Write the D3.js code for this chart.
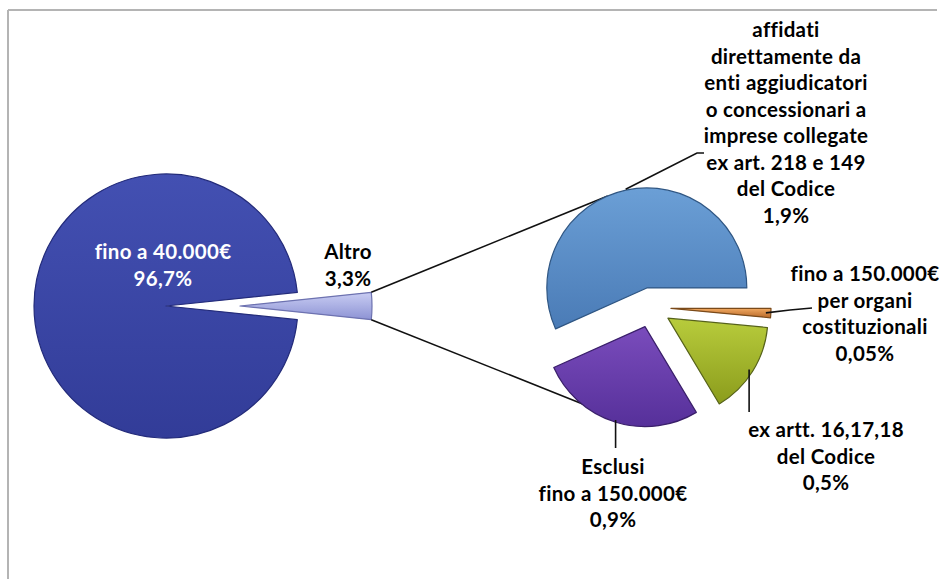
<!DOCTYPE html>
<html>
<head>
<meta charset="utf-8">
<script src="https://cdn.jsdelivr.net/npm/d3@7"></script>
<style>
  html, body { margin: 0; padding: 0; background: #fff; }
  svg { display: block; }
  text { font-family: Lato, "Open Sans", sans-serif; font-weight: 700; font-variant-ligatures: none; }
</style>
</head>
<body>
<svg id="chart" width="939" height="579"></svg>
<script>
// ---- data ----
const mainCategories = ["Altro", "fino a 40.000€"];
const mainValues = [3.3, 96.7];
const mainLabels = [["Altro", "3,3%"], ["fino a 40.000€", "96,7%"]];

const subCategories = [
  "fino a 150.000€ per organi costituzionali",
  "ex artt. 16,17,18 del Codice",
  "Esclusi fino a 150.000€",
  "affidati direttamente da enti aggiudicatori o concessionari a imprese collegate ex art. 218 e 149 del Codice"
];
const subValues = [0.05, 0.5, 0.9, 1.9];
const subLabels = [
  ["fino a 150.000€", "per organi", "costituzionali", "0,05%"],
  ["ex artt. 16,17,18", "del Codice", "0,5%"],
  ["Esclusi", "fino a 150.000€", "0,9%"],
  ["affidati", "direttamente da", "enti aggiudicatori", "o concessionari a", "imprese collegate", "ex art. 218 e 149", "del Codice", "1,9%"]
];

// ---- layout / style ----
const W = 939, H = 579;
const svg = d3.select("#chart");
const deg = Math.PI / 180;
const fontSize = 20.5, lineH = 26.5;

const main = { cx: 166, cy: 306, r: 132, explode: [74, 0] };
const sub = { cx: 651, cy: 307.5, r: 100, explode: 20 };

const mainFill = [["#c9cdf3", "#8d93d4"], ["#4350b2", "#323c98"]];
const mainStroke = ["#6d72b0", "#232b7a"];
const subFill = [["#f0a860", "#b8692a"], ["#b8cc3c", "#8b9c1c"], ["#7a4cbc", "#56309a"], ["#6b9fd6", "#4a7bb6"]];
const subStroke = ["#7a4a1a", "#56621a", "#3a1f6a", "#2f5683"];

const defs = svg.append("defs");
function grad(id, c) {
  const g = defs.append("linearGradient").attr("id", id)
    .attr("x1", 0).attr("y1", 0).attr("x2", 0).attr("y2", 1);
  g.append("stop").attr("offset", "0%").attr("stop-color", c[0]);
  g.append("stop").attr("offset", "100%").attr("stop-color", c[1]);
}
mainFill.forEach((c, i) => grad("mg" + i, c));
subFill.forEach((c, i) => grad("sg" + i, c));

// frame (top and left lines only)
svg.append("line").attr("x1", 8).attr("y1", 10).attr("x2", 937).attr("y2", 10)
  .attr("stroke", "#b4b4b4").attr("stroke-width", 2);
svg.append("line").attr("x1", 8).attr("y1", 10).attr("x2", 8).attr("y2", H)
  .attr("stroke", "#b4b4b4").attr("stroke-width", 2);

// ---- main pie ----
const altroSpan = mainValues[0] / d3.sum(mainValues) * 2 * Math.PI;
const mainPie = d3.pie().sort(null)
  .startAngle(Math.PI / 2 - altroSpan / 2)
  .endAngle(Math.PI / 2 - altroSpan / 2 + 2 * Math.PI);
const mainArcs = mainPie(mainValues);
const mainArc = d3.arc().innerRadius(0).outerRadius(main.r);

const mg = svg.append("g").attr("transform", `translate(${main.cx},${main.cy})`);
mg.selectAll("path").data(mainArcs).join("path")
  .attr("transform", (d, i) => {
    if (i !== 0) return null;
    const a = (d.startAngle + d.endAngle) / 2;
    return `translate(${Math.sin(a) * main.explode[0]},${-Math.cos(a) * main.explode[0]})`;
  })
  .attr("d", mainArc)
  .attr("fill", (d, i) => `url(#mg${i})`)
  .attr("stroke", (d, i) => mainStroke[i])
  .attr("stroke-width", 1.2)
  .attr("stroke-linejoin", "round");

// ---- secondary pie ----
const subPie = d3.pie().sort(null).startAngle(Math.PI / 2).endAngle(Math.PI / 2 + 2 * Math.PI);
const subArcs = subPie(subValues);
const subArc = d3.arc().innerRadius(0).outerRadius(sub.r);
function subOffset(d) {
  const a = (d.startAngle + d.endAngle) / 2;
  return [Math.sin(a) * sub.explode, -Math.cos(a) * sub.explode];
}
function subPoint(d, angle, rr) {
  const o = subOffset(d);
  return [sub.cx + o[0] + Math.sin(angle) * rr, sub.cy + o[1] - Math.cos(angle) * rr];
}

// connector lines from Altro outer corners to secondary pie
const altro = mainArcs[0];
const altroOff = [Math.sin((altro.startAngle + altro.endAngle) / 2) * main.explode[0], 0];
const cTop = [main.cx + altroOff[0] + Math.sin(altro.startAngle) * main.r, main.cy - Math.cos(altro.startAngle) * main.r];
const cBot = [main.cx + altroOff[0] + Math.sin(altro.endAngle) * main.r, main.cy - Math.cos(altro.endAngle) * main.r];
const eTop = subPoint(subArcs[3], 337 * deg, sub.r);
const eBot = subPoint(subArcs[2], 210 * deg, sub.r - 4);
svg.append("path").attr("d", d3.line()([cTop, eTop])).attr("stroke", "#111").attr("stroke-width", 1.6).attr("fill", "none");
svg.append("path").attr("d", d3.line()([cBot, eBot])).attr("stroke", "#111").attr("stroke-width", 1.6).attr("fill", "none");

const sg = svg.append("g").attr("transform", `translate(${sub.cx},${sub.cy})`);
sg.selectAll("path").data(subArcs).join("path")
  .attr("transform", d => { const o = subOffset(d); return `translate(${o[0]},${o[1]})`; })
  .attr("d", subArc)
  .attr("fill", (d, i) => `url(#sg${i})`)
  .attr("stroke", (d, i) => subStroke[i])
  .attr("stroke-width", 1.2)
  .attr("stroke-linejoin", "round");

// ---- labels ----
function label(lines, x, y, color) {
  const t = svg.append("text").attr("text-anchor", "middle")
    .attr("font-size", fontSize).attr("fill", color).attr("letter-spacing", 0.3);
  lines.forEach((s, i) => {
    t.append("tspan").attr("x", x).attr("y", y + i * lineH).attr("dominant-baseline", "central").text(s);
  });
}
label(mainLabels[1], 163, 251, "#ffffff");
label(mainLabels[0], 348, 251, "#000000");

// leader lines for secondary labels
function mid(d) { return (d.startAngle + d.endAngle) / 2; }
const leader = (pts) => svg.append("path").attr("d", d3.line()(pts))
  .attr("stroke", "#111").attr("stroke-width", 1.6).attr("fill", "none");

// blue
const pb = subPoint(subArcs[3], mid(subArcs[3]), sub.r + 1);
leader([pb, [697, 153], [704, 153]]);
label(subLabels[3], 786, 29, "#000");
// orange
const po = subPoint(subArcs[0], mid(subArcs[0]), sub.r - 5);
leader([po, [790, 310], [812, 308]]);
label(subLabels[0], 865, 273, "#000");
// green
const pg = subPoint(subArcs[1], mid(subArcs[1]), sub.r - 4);
leader([pg, [pg[0], 412]]);
label(subLabels[1], 826, 429, "#000");
// purple
const pp = subPoint(subArcs[2], mid(subArcs[2]), sub.r - 2);
leader([pp, [pp[0], 448]]);
label(subLabels[2], 613, 466, "#000");
</script>
</body>
</html>
